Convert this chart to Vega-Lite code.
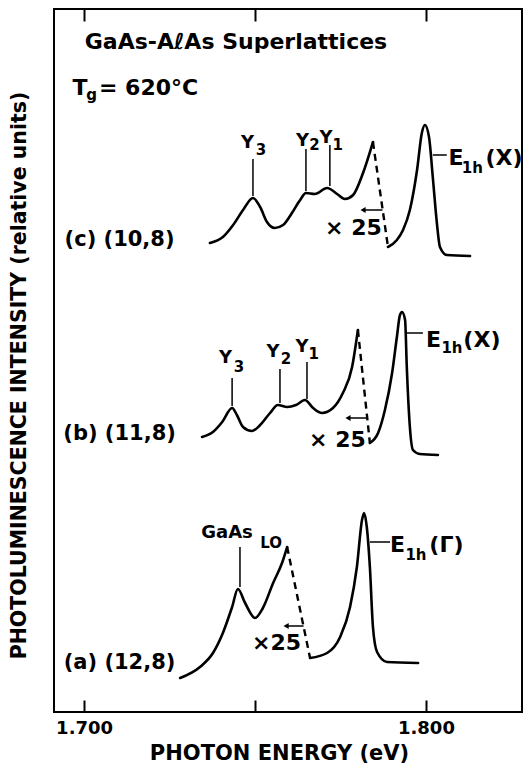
{
  "$schema": "https://vega.github.io/schema/vega-lite/v6.json",
  "width": 468,
  "height": 703,
  "autosize": "none",
  "padding": {"left": 54, "top": 9, "right": 9, "bottom": 53},
  "background": "white",
  "config": {
    "view": {"stroke": "black", "strokeWidth": 2},
    "font": "DejaVu Sans",
    "text": {"font": "DejaVu Sans", "fontWeight": "bold", "color": "black", "align": "center", "baseline": "alphabetic"}
  },
  "datasets": {
    "spectra": [
      {"sample": "c", "segment": "c-low", "part": "spectrum", "energy": 1.7368, "intensity": 469},
      {"sample": "c", "segment": "c-low", "part": "spectrum", "energy": 1.7406, "intensity": 475},
      {"sample": "c", "segment": "c-low", "part": "spectrum", "energy": 1.7436, "intensity": 487},
      {"sample": "c", "segment": "c-low", "part": "spectrum", "energy": 1.7465, "intensity": 502},
      {"sample": "c", "segment": "c-low", "part": "spectrum", "energy": 1.7494, "intensity": 514},
      {"sample": "c", "segment": "c-low", "part": "spectrum", "energy": 1.7515, "intensity": 505},
      {"sample": "c", "segment": "c-low", "part": "spectrum", "energy": 1.7535, "intensity": 490},
      {"sample": "c", "segment": "c-low", "part": "spectrum", "energy": 1.7558, "intensity": 484},
      {"sample": "c", "segment": "c-low", "part": "spectrum", "energy": 1.7582, "intensity": 487},
      {"sample": "c", "segment": "c-low", "part": "spectrum", "energy": 1.7608, "intensity": 499},
      {"sample": "c", "segment": "c-low", "part": "spectrum", "energy": 1.7632, "intensity": 512},
      {"sample": "c", "segment": "c-low", "part": "spectrum", "energy": 1.7649, "intensity": 519},
      {"sample": "c", "segment": "c-low", "part": "spectrum", "energy": 1.7675, "intensity": 518},
      {"sample": "c", "segment": "c-low", "part": "spectrum", "energy": 1.7711, "intensity": 524},
      {"sample": "c", "segment": "c-low", "part": "spectrum", "energy": 1.7740, "intensity": 518},
      {"sample": "c", "segment": "c-low", "part": "spectrum", "energy": 1.7763, "intensity": 513},
      {"sample": "c", "segment": "c-low", "part": "spectrum", "energy": 1.7787, "intensity": 517},
      {"sample": "c", "segment": "c-low", "part": "spectrum", "energy": 1.7816, "intensity": 539},
      {"sample": "c", "segment": "c-low", "part": "spectrum", "energy": 1.7845, "intensity": 570},
      {"sample": "c", "segment": "c-break", "part": "scale break", "energy": 1.7845, "intensity": 570},
      {"sample": "c", "segment": "c-break", "part": "scale break", "energy": 1.7889, "intensity": 465},
      {"sample": "c", "segment": "c-high", "part": "spectrum", "energy": 1.7889, "intensity": 465},
      {"sample": "c", "segment": "c-high", "part": "spectrum", "energy": 1.7915, "intensity": 472},
      {"sample": "c", "segment": "c-high", "part": "spectrum", "energy": 1.7933, "intensity": 482},
      {"sample": "c", "segment": "c-high", "part": "spectrum", "energy": 1.7953, "intensity": 502},
      {"sample": "c", "segment": "c-high", "part": "spectrum", "energy": 1.7974, "intensity": 542},
      {"sample": "c", "segment": "c-high", "part": "spectrum", "energy": 1.7988, "intensity": 579},
      {"sample": "c", "segment": "c-high", "part": "spectrum", "energy": 1.7997, "intensity": 587},
      {"sample": "c", "segment": "c-high", "part": "spectrum", "energy": 1.8009, "intensity": 575},
      {"sample": "c", "segment": "c-high", "part": "spectrum", "energy": 1.8020, "intensity": 535},
      {"sample": "c", "segment": "c-high", "part": "spectrum", "energy": 1.8032, "intensity": 489},
      {"sample": "c", "segment": "c-high", "part": "spectrum", "energy": 1.8041, "intensity": 465},
      {"sample": "c", "segment": "c-high", "part": "spectrum", "energy": 1.8061, "intensity": 457},
      {"sample": "c", "segment": "c-high", "part": "spectrum", "energy": 1.8129, "intensity": 456},
      {"sample": "b", "segment": "b-low", "part": "spectrum", "energy": 1.7345, "intensity": 275},
      {"sample": "b", "segment": "b-low", "part": "spectrum", "energy": 1.7377, "intensity": 280},
      {"sample": "b", "segment": "b-low", "part": "spectrum", "energy": 1.7404, "intensity": 290},
      {"sample": "b", "segment": "b-low", "part": "spectrum", "energy": 1.7433, "intensity": 304},
      {"sample": "b", "segment": "b-low", "part": "spectrum", "energy": 1.7447, "intensity": 297},
      {"sample": "b", "segment": "b-low", "part": "spectrum", "energy": 1.7465, "intensity": 285},
      {"sample": "b", "segment": "b-low", "part": "spectrum", "energy": 1.7491, "intensity": 281},
      {"sample": "b", "segment": "b-low", "part": "spectrum", "energy": 1.7515, "intensity": 287},
      {"sample": "b", "segment": "b-low", "part": "spectrum", "energy": 1.7544, "intensity": 299},
      {"sample": "b", "segment": "b-low", "part": "spectrum", "energy": 1.7567, "intensity": 307},
      {"sample": "b", "segment": "b-low", "part": "spectrum", "energy": 1.7594, "intensity": 305},
      {"sample": "b", "segment": "b-low", "part": "spectrum", "energy": 1.7620, "intensity": 307},
      {"sample": "b", "segment": "b-low", "part": "spectrum", "energy": 1.7646, "intensity": 312},
      {"sample": "b", "segment": "b-low", "part": "spectrum", "energy": 1.7670, "intensity": 304},
      {"sample": "b", "segment": "b-low", "part": "spectrum", "energy": 1.7696, "intensity": 299},
      {"sample": "b", "segment": "b-low", "part": "spectrum", "energy": 1.7728, "intensity": 304},
      {"sample": "b", "segment": "b-low", "part": "spectrum", "energy": 1.7757, "intensity": 319},
      {"sample": "b", "segment": "b-low", "part": "spectrum", "energy": 1.7784, "intensity": 345},
      {"sample": "b", "segment": "b-low", "part": "spectrum", "energy": 1.7801, "intensity": 382},
      {"sample": "b", "segment": "b-break", "part": "scale break", "energy": 1.7801, "intensity": 382},
      {"sample": "b", "segment": "b-break", "part": "scale break", "energy": 1.7836, "intensity": 269},
      {"sample": "b", "segment": "b-high", "part": "spectrum", "energy": 1.7836, "intensity": 269},
      {"sample": "b", "segment": "b-high", "part": "spectrum", "energy": 1.7860, "intensity": 279},
      {"sample": "b", "segment": "b-high", "part": "spectrum", "energy": 1.7880, "intensity": 302},
      {"sample": "b", "segment": "b-high", "part": "spectrum", "energy": 1.7901, "intensity": 339},
      {"sample": "b", "segment": "b-high", "part": "spectrum", "energy": 1.7915, "intensity": 375},
      {"sample": "b", "segment": "b-high", "part": "spectrum", "energy": 1.7924, "intensity": 397},
      {"sample": "b", "segment": "b-high", "part": "spectrum", "energy": 1.7930, "intensity": 400},
      {"sample": "b", "segment": "b-high", "part": "spectrum", "energy": 1.7939, "intensity": 392},
      {"sample": "b", "segment": "b-high", "part": "spectrum", "energy": 1.7944, "intensity": 345},
      {"sample": "b", "segment": "b-high", "part": "spectrum", "energy": 1.7953, "intensity": 285},
      {"sample": "b", "segment": "b-high", "part": "spectrum", "energy": 1.7962, "intensity": 262},
      {"sample": "b", "segment": "b-high", "part": "spectrum", "energy": 1.7982, "intensity": 258},
      {"sample": "b", "segment": "b-high", "part": "spectrum", "energy": 1.8035, "intensity": 257},
      {"sample": "a", "segment": "a-low", "part": "spectrum", "energy": 1.7281, "intensity": 34},
      {"sample": "a", "segment": "a-low", "part": "spectrum", "energy": 1.7339, "intensity": 45},
      {"sample": "a", "segment": "a-low", "part": "spectrum", "energy": 1.7377, "intensity": 59},
      {"sample": "a", "segment": "a-low", "part": "spectrum", "energy": 1.7406, "intensity": 79},
      {"sample": "a", "segment": "a-low", "part": "spectrum", "energy": 1.7433, "intensity": 105},
      {"sample": "a", "segment": "a-low", "part": "spectrum", "energy": 1.7450, "intensity": 123},
      {"sample": "a", "segment": "a-low", "part": "spectrum", "energy": 1.7471, "intensity": 109},
      {"sample": "a", "segment": "a-low", "part": "spectrum", "energy": 1.7500, "intensity": 94},
      {"sample": "a", "segment": "a-low", "part": "spectrum", "energy": 1.7523, "intensity": 104},
      {"sample": "a", "segment": "a-low", "part": "spectrum", "energy": 1.7553, "intensity": 129},
      {"sample": "a", "segment": "a-low", "part": "spectrum", "energy": 1.7579, "intensity": 149},
      {"sample": "a", "segment": "a-low", "part": "spectrum", "energy": 1.7594, "intensity": 165},
      {"sample": "a", "segment": "a-break", "part": "scale break", "energy": 1.7594, "intensity": 165},
      {"sample": "a", "segment": "a-break", "part": "scale break", "energy": 1.7661, "intensity": 54},
      {"sample": "a", "segment": "a-high", "part": "spectrum", "energy": 1.7661, "intensity": 54},
      {"sample": "a", "segment": "a-high", "part": "spectrum", "energy": 1.7711, "intensity": 59},
      {"sample": "a", "segment": "a-high", "part": "spectrum", "energy": 1.7749, "intensity": 75},
      {"sample": "a", "segment": "a-high", "part": "spectrum", "energy": 1.7778, "intensity": 105},
      {"sample": "a", "segment": "a-high", "part": "spectrum", "energy": 1.7798, "intensity": 145},
      {"sample": "a", "segment": "a-high", "part": "spectrum", "energy": 1.7813, "intensity": 192},
      {"sample": "a", "segment": "a-high", "part": "spectrum", "energy": 1.7819, "intensity": 199},
      {"sample": "a", "segment": "a-high", "part": "spectrum", "energy": 1.7827, "intensity": 185},
      {"sample": "a", "segment": "a-high", "part": "spectrum", "energy": 1.7836, "intensity": 145},
      {"sample": "a", "segment": "a-high", "part": "spectrum", "energy": 1.7845, "intensity": 85},
      {"sample": "a", "segment": "a-high", "part": "spectrum", "energy": 1.7857, "intensity": 60},
      {"sample": "a", "segment": "a-high", "part": "spectrum", "energy": 1.7886, "intensity": 50},
      {"sample": "a", "segment": "a-high", "part": "spectrum", "energy": 1.7977, "intensity": 49}
    ],
    "leaders": [
      {"energy": 1.7494, "energy2": 1.7494, "intensity": 516, "intensity2": 553},
      {"energy": 1.7649, "energy2": 1.7649, "intensity": 521, "intensity2": 563},
      {"energy": 1.7719, "energy2": 1.7719, "intensity": 526, "intensity2": 567},
      {"energy": 1.7433, "energy2": 1.7433, "intensity": 306, "intensity2": 334},
      {"energy": 1.7573, "energy2": 1.7573, "intensity": 309, "intensity2": 343},
      {"energy": 1.7652, "energy2": 1.7652, "intensity": 313, "intensity2": 350},
      {"energy": 1.7456, "energy2": 1.7456, "intensity": 125, "intensity2": 165},
      {"energy": 1.8020, "energy2": 1.8061, "intensity": 557, "intensity2": 557},
      {"energy": 1.7944, "energy2": 1.7991, "intensity": 379, "intensity2": 379},
      {"energy": 1.7836, "energy2": 1.7895, "intensity": 170, "intensity2": 170},
      {"energy": 1.7813, "energy2": 1.7873, "intensity": 502, "intensity2": 502},
      {"energy": 1.7769, "energy2": 1.7829, "intensity": 294, "intensity2": 294},
      {"energy": 1.7588, "energy2": 1.7642, "intensity": 86, "intensity2": 86}
    ],
    "arrowheads": [
      {"energy": 1.7816, "intensity": 502},
      {"energy": 1.7772, "intensity": 294},
      {"energy": 1.7591, "intensity": 86}
    ],
    "labels": [
      {"role": "title", "energy": 1.74444, "intensity": 663, "text": "GaAs-AℓAs  Superlattices"},
      {"role": "heading", "energy": 1.71038, "intensity": 466, "text": "(c)  (10,8)"},
      {"role": "heading", "energy": 1.71038, "intensity": 272, "text": "(b)  (11,8)"},
      {"role": "heading", "energy": 1.71038, "intensity": 43, "text": "(a)  (12,8)"},
      {"role": "annotation", "energy": 1.69883, "intensity": 617, "text": "T"},
      {"role": "annotation", "energy": 1.71886, "intensity": 617, "text": "= 620°C"},
      {"role": "subscript", "energy": 1.70220, "intensity": 612, "text": "g"},
      {"role": "peak", "energy": 1.74780, "intensity": 564, "text": "Y"},
      {"role": "subscript", "energy": 1.75175, "intensity": 557, "text": "3"},
      {"role": "peak", "energy": 1.76388, "intensity": 566, "text": "Y"},
      {"role": "subscript", "energy": 1.76740, "intensity": 562, "text": "2"},
      {"role": "peak", "energy": 1.77076, "intensity": 569, "text": "Y"},
      {"role": "subscript", "energy": 1.77420, "intensity": 562, "text": "1"},
      {"role": "annotation", "energy": 1.77880, "intensity": 477, "text": "× 25"},
      {"role": "annotation", "energy": 1.80877, "intensity": 547, "text": "E"},
      {"role": "subscript", "energy": 1.81360, "intensity": 539, "text": "1h"},
      {"role": "annotation", "energy": 1.82281, "intensity": 547, "text": "(X)"},
      {"role": "peak", "energy": 1.74137, "intensity": 349, "text": "Y"},
      {"role": "subscript", "energy": 1.74531, "intensity": 340, "text": "3"},
      {"role": "peak", "energy": 1.75526, "intensity": 355, "text": "Y"},
      {"role": "subscript", "energy": 1.75907, "intensity": 348, "text": "2"},
      {"role": "peak", "energy": 1.76374, "intensity": 360, "text": "Y"},
      {"role": "subscript", "energy": 1.76720, "intensity": 353, "text": "1"},
      {"role": "annotation", "energy": 1.77412, "intensity": 265, "text": "× 25"},
      {"role": "annotation", "energy": 1.80219, "intensity": 365, "text": "E"},
      {"role": "subscript", "energy": 1.80761, "intensity": 359, "text": "1h"},
      {"role": "annotation", "energy": 1.81637, "intensity": 365, "text": "(X)"},
      {"role": "peak", "energy": 1.74181, "intensity": 174, "text": "GaAs"},
      {"role": "subscript", "energy": 1.75470, "intensity": 164, "text": "LO"},
      {"role": "annotation", "energy": 1.75629, "intensity": 62, "text": "×25"},
      {"role": "annotation", "energy": 1.79167, "intensity": 160, "text": "E"},
      {"role": "subscript", "energy": 1.79708, "intensity": 152, "text": "1h"},
      {"role": "annotation", "energy": 1.80599, "intensity": 160, "text": "(Γ)"}
    ]
  },
  "resolve": {"axis": {"x": "independent"}},
  "layer": [
    {
      "data": {"name": "spectra"},
      "transform": [{"filter": "datum.part == 'spectrum'"}],
      "mark": {"type": "line", "interpolate": "monotone", "stroke": "black", "strokeWidth": 2.6, "strokeCap": "round", "strokeJoin": "round"},
      "encoding": {
        "x": {
          "field": "energy", "type": "quantitative",
          "scale": {"domain": [1.6912, 1.8281], "nice": false, "zero": false},
          "axis": {
            "orient": "bottom", "values": [1.7, 1.75, 1.8],
            "labelExpr": "datum.value == 1.75 ? '' : format(datum.value, '.3f')",
            "tickSize": -12, "tickWidth": 2, "tickColor": "black",
            "domain": false, "grid": false, "labelFlush": false,
            "labelFont": "DejaVu Sans", "labelFontWeight": "bold", "labelFontSize": 18, "labelColor": "black", "labelPadding": 19,
            "title": "PHOTON  ENERGY  (eV)", "titleFont": "DejaVu Sans", "titleFontWeight": "bold", "titleFontSize": 21, "titleColor": "black",
            "titleX": 225, "titleY": 47, "titleBaseline": "alphabetic"
          }
        },
        "y": {
          "field": "intensity", "type": "quantitative",
          "scale": {"domain": [0, 703], "nice": false, "zero": false},
          "axis": {
            "ticks": false, "labels": false, "domain": false, "grid": false,
            "title": "PHOTOLUMINESCENCE  INTENSITY  (relative  units)",
            "titleFont": "DejaVu Sans", "titleFontWeight": "bold", "titleFontSize": 20.5, "titleColor": "black",
            "titleX": -35, "titleY": 366, "titleAlign": "center", "titleBaseline": "middle", "titleAngle": 270
          }
        },
        "detail": {"field": "segment"}
      }
    },
    {
      "data": {"name": "spectra"},
      "transform": [{"filter": "datum.part == 'scale break'"}],
      "mark": {"type": "line", "stroke": "black", "strokeWidth": 2.4, "strokeDash": [7, 5]},
      "encoding": {
        "x": {
          "field": "energy", "type": "quantitative",
          "axis": {"orient": "top", "values": [1.7, 1.75, 1.8], "labels": false, "tickSize": -12, "tickWidth": 2, "tickColor": "black", "domain": false, "grid": false, "title": null}
        },
        "y": {"field": "intensity", "type": "quantitative"},
        "detail": {"field": "segment"}
      }
    },
    {
      "data": {"name": "leaders"},
      "mark": {"type": "rule", "stroke": "black", "strokeWidth": 1.5},
      "encoding": {
        "x": {"field": "energy", "type": "quantitative", "axis": null},
        "x2": {"field": "energy2"},
        "y": {"field": "intensity", "type": "quantitative"},
        "y2": {"field": "intensity2"}
      }
    },
    {
      "data": {"name": "arrowheads"},
      "mark": {"type": "point", "shape": "triangle-left", "filled": true, "color": "black", "size": 35, "opacity": 1},
      "encoding": {
        "x": {"field": "energy", "type": "quantitative", "axis": null},
        "y": {"field": "intensity", "type": "quantitative"}
      }
    },
    {
      "data": {"name": "labels"},
      "transform": [{"filter": "datum.role == 'title'"}],
      "mark": {"type": "text", "fontSize": 22},
      "encoding": {
        "x": {"field": "energy", "type": "quantitative", "axis": null},
        "y": {"field": "intensity", "type": "quantitative"},
        "text": {"field": "text"}
      }
    },
    {
      "data": {"name": "labels"},
      "transform": [{"filter": "datum.role == 'heading'"}],
      "mark": {"type": "text", "fontSize": 21},
      "encoding": {
        "x": {"field": "energy", "type": "quantitative", "axis": null},
        "y": {"field": "intensity", "type": "quantitative"},
        "text": {"field": "text"}
      }
    },
    {
      "data": {"name": "labels"},
      "transform": [{"filter": "datum.role == 'annotation'"}],
      "mark": {"type": "text", "fontSize": 22},
      "encoding": {
        "x": {"field": "energy", "type": "quantitative", "axis": null},
        "y": {"field": "intensity", "type": "quantitative"},
        "text": {"field": "text"}
      }
    },
    {
      "data": {"name": "labels"},
      "transform": [{"filter": "datum.role == 'peak'"}],
      "mark": {"type": "text", "fontSize": 18},
      "encoding": {
        "x": {"field": "energy", "type": "quantitative", "axis": null},
        "y": {"field": "intensity", "type": "quantitative"},
        "text": {"field": "text"}
      }
    },
    {
      "data": {"name": "labels"},
      "transform": [{"filter": "datum.role == 'subscript'"}],
      "mark": {"type": "text", "fontSize": 15},
      "encoding": {
        "x": {"field": "energy", "type": "quantitative", "axis": null},
        "y": {"field": "intensity", "type": "quantitative"},
        "text": {"field": "text"}
      }
    }
  ]
}
